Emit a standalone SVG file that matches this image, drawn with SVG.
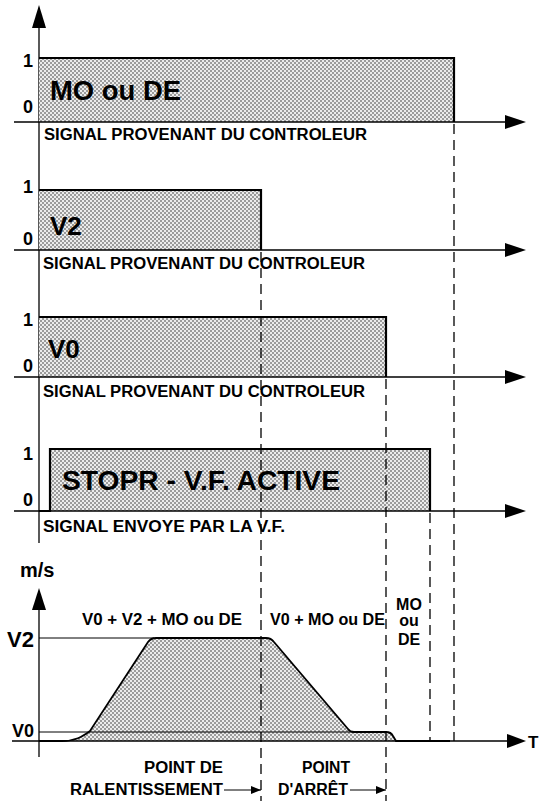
<svg xmlns="http://www.w3.org/2000/svg" width="539" height="801" viewBox="0 0 539 801">
<defs>
<pattern id="dots" width="4" height="4" patternUnits="userSpaceOnUse">
<rect width="4" height="4" fill="#ececec"/>
<circle cx="1" cy="1" r="0.75" fill="#222"/>
<circle cx="3" cy="3" r="0.75" fill="#222"/>
</pattern>
<marker id="ah" markerWidth="10" markerHeight="8" refX="10" refY="4" orient="auto" markerUnits="userSpaceOnUse">
<path d="M0,0 L10,4 L0,8 Z" fill="#000"/>
</marker>
</defs>
<style>
.ax{stroke:#000;stroke-width:1.3;fill:none}
.sig{fill:url(#dots);stroke:none}
.edge{stroke:#000;stroke-width:2.2;fill:none}
.dash{stroke:#000;stroke-width:1.3;stroke-dasharray:10 6;fill:none}
.thin{stroke:#000;stroke-width:1;fill:none}
.head{fill:#000}
text{font-family:"Liberation Sans",Arial,sans-serif;font-weight:bold;fill:#000}
.lv{font-size:18px;text-anchor:end}
.big{font-size:27px}
.sg{font-size:16px}
.sp{font-size:16px}
</style>

<g id="axes">
<line class="ax" x1="39" y1="20" x2="39" y2="543"/>
<path class="head" d="M39,5 L46,28 L32,28 Z"/>
<line class="ax" x1="39" y1="600" x2="39" y2="757"/>
<path class="head" d="M39,588 L46,610 L32,610 Z"/>
</g>

<g id="panel-mo">
<rect class="sig" x="39" y="58" width="415" height="64"/>
<path class="edge" d="M39,58 L454,58 L454,122"/>
<line class="ax" x1="14" y1="122" x2="510" y2="122"/>
<path class="head" d="M526,122 L505,115 L505,129 Z"/>
<text class="lv" x="33" y="67">1</text>
<text class="lv" x="33" y="113">0</text>
<text class="big" x="50" y="100" textLength="131" lengthAdjust="spacingAndGlyphs">MO ou DE</text>
<text class="sg" x="44" y="140" textLength="323" lengthAdjust="spacingAndGlyphs">SIGNAL PROVENANT DU CONTROLEUR</text>
</g>

<g id="panel-v2">
<rect class="sig" x="39" y="190" width="222" height="60"/>
<path class="edge" d="M39,190 L261,190 L261,250"/>
<line class="ax" x1="14" y1="250" x2="510" y2="250"/>
<path class="head" d="M526,250 L505,243 L505,257 Z"/>
<text class="lv" x="33" y="193">1</text>
<text class="lv" x="33" y="245">0</text>
<text class="big" x="50" y="235" style="font-size:26px">V2</text>
<text class="sg" x="43" y="269" textLength="322" lengthAdjust="spacingAndGlyphs">SIGNAL PROVENANT DU CONTROLEUR</text>
</g>

<g id="panel-v0">
<rect class="sig" x="39" y="317" width="347" height="60"/>
<path class="edge" d="M39,317 L386,317 L386,377"/>
<line class="ax" x1="14" y1="377" x2="510" y2="377"/>
<path class="head" d="M526,377 L505,370 L505,384 Z"/>
<text class="lv" x="33" y="326">1</text>
<text class="lv" x="33" y="372">0</text>
<text class="big" x="48" y="358" style="font-size:26px">V0</text>
<text class="sg" x="43" y="397" textLength="322" lengthAdjust="spacingAndGlyphs">SIGNAL PROVENANT DU CONTROLEUR</text>
</g>

<g id="panel-stopr">
<rect class="sig" x="50" y="449" width="380" height="62"/>
<path class="edge" d="M39,511 L50,511 L50,449 L430,449 L430,511"/>
<line class="ax" x1="14" y1="511" x2="510" y2="511"/>
<path class="head" d="M526,511 L505,504 L505,518 Z"/>
<text class="lv" x="33" y="460">1</text>
<text class="lv" x="33" y="506">0</text>
<text class="big" x="62" y="490" textLength="278" lengthAdjust="spacingAndGlyphs">STOPR - V.F. ACTIVE</text>
<text class="sg" x="43" y="532" textLength="242" lengthAdjust="spacingAndGlyphs">SIGNAL ENVOYE PAR LA V.F.</text>
</g>

<g id="panel-speed">
<path class="sig" d="M39,741 L62,741 C75,741 82,737 90,731 L148,642 Q151,638 156,638 L266,638 Q271,638 274,642 L348,729 Q350,732 354,732 L386,732 Q391,732 393,736 L396,741 Z"/>
<line class="thin" x1="39" y1="638" x2="154" y2="638"/>
<line class="thin" x1="39" y1="732" x2="354" y2="732"/>
<path class="edge" style="stroke-width:1.8" d="M39,741 L62,741 C75,741 82,737 90,731 L148,642 Q151,638 156,638 L266,638 Q271,638 274,642 L348,729 Q350,732 354,732 L386,732 Q391,732 393,736 L396,741 L450,741"/>
<line class="ax" x1="12" y1="741" x2="510" y2="741"/>
<path class="head" d="M526,741 L507,734 L507,748 Z"/>
<text x="20" y="577" style="font-size:20px">m/s</text>
<text x="7" y="647" style="font-size:22px">V2</text>
<text x="12" y="737" style="font-size:18px">V0</text>
<text x="528" y="748" style="font-size:17px">T</text>
<text class="sp" x="82" y="625" textLength="160" lengthAdjust="spacingAndGlyphs">V0 + V2 + MO ou DE</text>
<text class="sp" x="270" y="625" textLength="115" lengthAdjust="spacingAndGlyphs">V0 + MO ou DE</text>
<text class="sp" x="409" y="610" text-anchor="middle">MO</text>
<text class="sp" x="409" y="626" text-anchor="middle">ou</text>
<text class="sp" x="409" y="645" text-anchor="middle">DE</text>
<text class="sp" x="144" y="773" textLength="79" lengthAdjust="spacingAndGlyphs">POINT DE</text>
<text class="sp" x="70" y="795" textLength="153" lengthAdjust="spacingAndGlyphs">RALENTISSEMENT</text>
<text class="sp" x="302" y="773" textLength="48" lengthAdjust="spacingAndGlyphs">POINT</text>
<text class="sp" x="278" y="795" textLength="70" lengthAdjust="spacingAndGlyphs">D'ARRÊT</text>
</g>

<g id="connectors">
<line class="dash" x1="261" y1="252" x2="261" y2="801"/>
<line class="dash" x1="386" y1="379" x2="386" y2="801"/>
<line class="dash" x1="430" y1="513" x2="430" y2="741"/>
<line class="dash" x1="454" y1="124" x2="454" y2="741"/>
<line class="thin" x1="224" y1="790" x2="261" y2="790" marker-end="url(#ah)"/>
<line class="thin" x1="350" y1="790" x2="386" y2="790" marker-end="url(#ah)"/>
</g>
</svg>
